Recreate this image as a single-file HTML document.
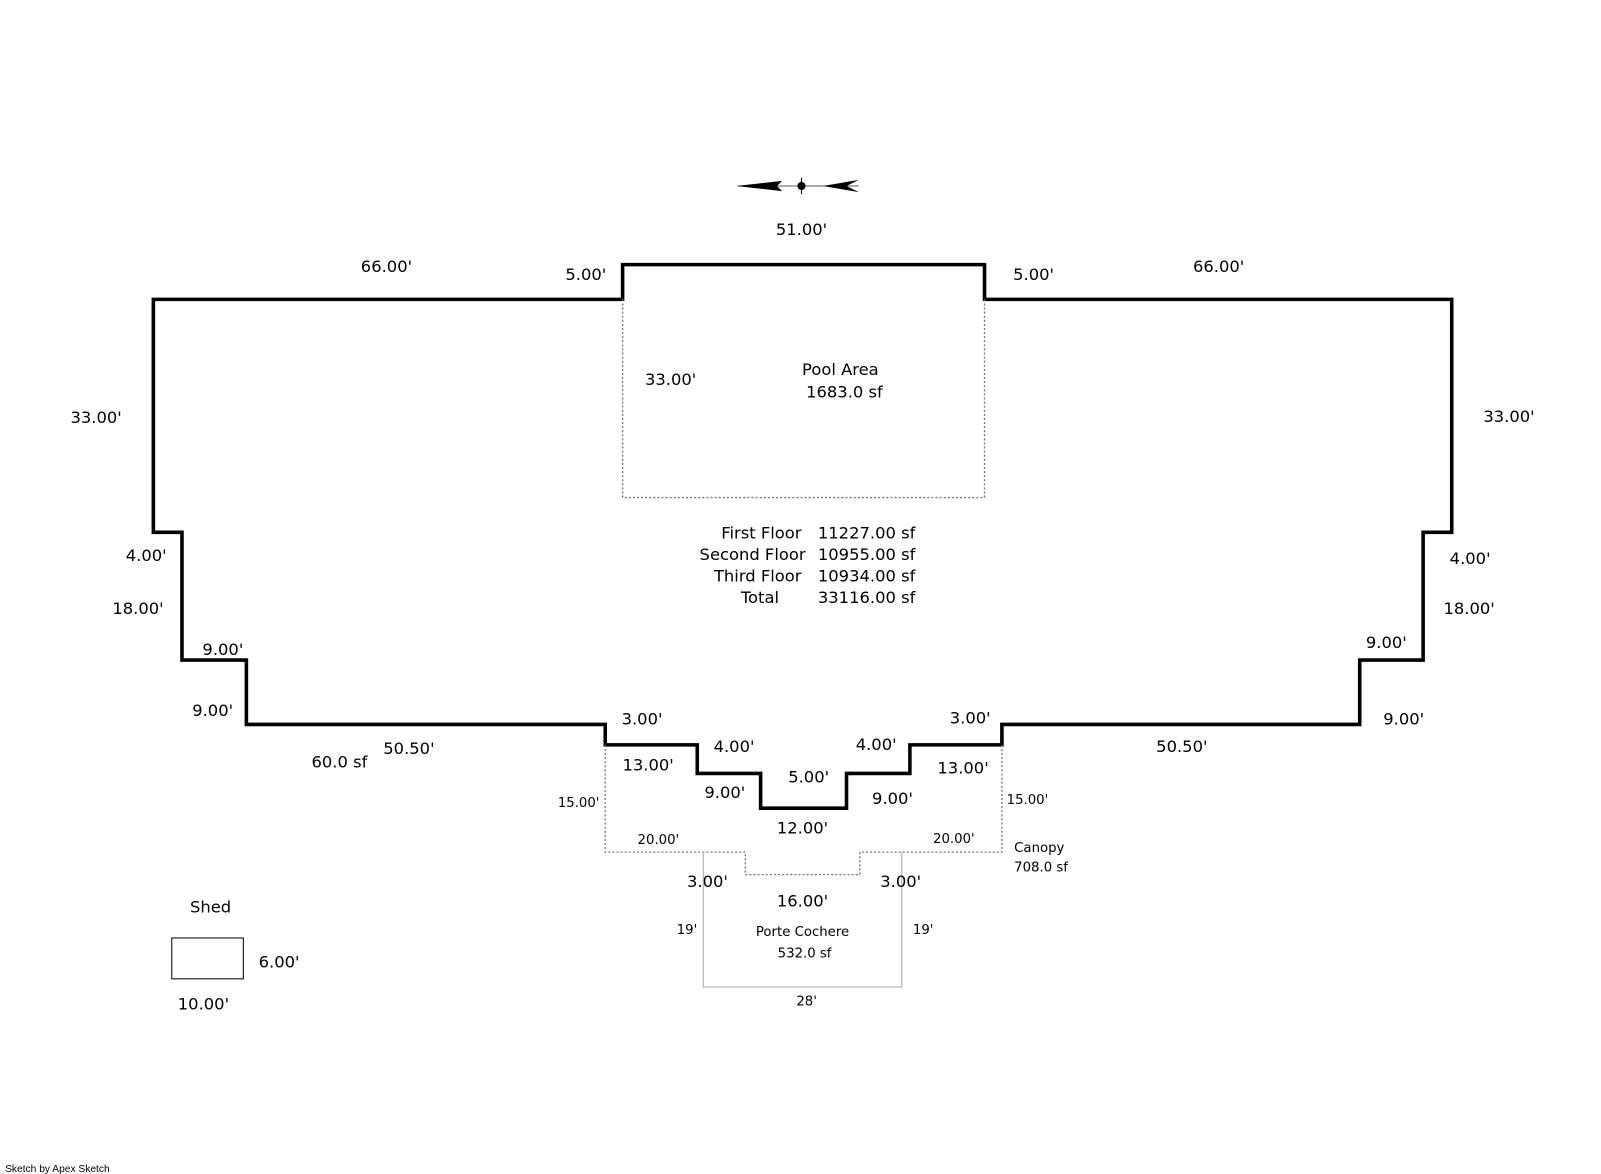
<!DOCTYPE html>
<html><head><meta charset="utf-8"><style>
html,body{margin:0;padding:0;background:#fff;}
svg{display:block;}
text{font-family:"DejaVu Sans","Liberation Sans",sans-serif;fill:#000;}
.l{font-size:16px;}
.s{font-size:13px;}
</style></head><body>
<svg width="1601" height="1174" viewBox="0 0 1566 1149" preserveAspectRatio="none" xmlns="http://www.w3.org/2000/svg">
<rect width="1566" height="1149" fill="#fff"/>
<!-- compass -->
<g>
<line x1="722" y1="182" x2="840" y2="182" stroke="#555" stroke-width="1"/>
<polygon points="720,182 765,177 760,182 765,187" fill="#000"/>
<polygon points="805,182 840,176 828,182 840,188" fill="#000"/>
<circle cx="784" cy="182" r="4" fill="#000"/>
<line x1="784" y1="174" x2="784" y2="190" stroke="#000" stroke-width="1"/>
</g>
<!-- main outline -->
<polygon points="150,293 609,293 609,259 963,259 963,293 1420,293 1420,521 1392,521 1392,646 1330,646 1330,709 980,709 980,729 890,729 890,757 828,757 828,791 744,791 744,757 682,757 682,729 592,729 592,709 241,709 241,646 178,646 178,521 150,521" fill="none" stroke="#000" stroke-width="3.5"/>
<!-- pool -->
<polyline points="609,293 609,487 963,487 963,293" fill="none" stroke="#777" stroke-width="1.3" stroke-dasharray="2,2"/>
<!-- canopy -->
<polyline points="592,729 592,834 729,834 729,856 841,856 841,834 980,834 980,729" fill="none" stroke="#777" stroke-width="1.3" stroke-dasharray="2,2"/>
<!-- porte cochere -->
<polyline points="688,834 688,966 882,966 882,834" fill="none" stroke="#bbb" stroke-width="1.3"/>
<!-- shed -->
<rect x="168" y="918" width="70" height="40" fill="none" stroke="#000" stroke-width="1"/>
<!-- labels -->
<g class="l">
<text x="784" y="230" text-anchor="middle">51.00'</text>
<text x="378" y="266" text-anchor="middle">66.00'</text>
<text x="573" y="274" text-anchor="middle">5.00'</text>
<text x="1011" y="274" text-anchor="middle">5.00'</text>
<text x="1192" y="266" text-anchor="middle">66.00'</text>
<text x="94" y="414" text-anchor="middle">33.00'</text>
<text x="1476" y="413" text-anchor="middle">33.00'</text>
<text x="656" y="377" text-anchor="middle">33.00'</text>
<text x="822" y="367" text-anchor="middle">Pool Area</text>
<text x="826" y="389" text-anchor="middle">1683.0 sf</text>
<text x="784" y="527" text-anchor="end">First Floor</text>
<text x="788" y="548" text-anchor="end">Second Floor</text>
<text x="784" y="569" text-anchor="end">Third Floor</text>
<text x="762" y="590" text-anchor="end">Total</text>
<text x="800" y="527">11227.00 sf</text>
<text x="800" y="548">10955.00 sf</text>
<text x="800" y="569">10934.00 sf</text>
<text x="800" y="590">33116.00 sf</text>
<text x="143" y="549" text-anchor="middle">4.00'</text>
<text x="135" y="601" text-anchor="middle">18.00'</text>
<text x="218" y="641" text-anchor="middle">9.00'</text>
<text x="208" y="701" text-anchor="middle">9.00'</text>
<text x="1438" y="552" text-anchor="middle">4.00'</text>
<text x="1437" y="601" text-anchor="middle">18.00'</text>
<text x="1356" y="634" text-anchor="middle">9.00'</text>
<text x="1373" y="709" text-anchor="middle">9.00'</text>
<text x="332" y="751" text-anchor="middle">60.0 sf</text>
<text x="400" y="738" text-anchor="middle">50.50'</text>
<text x="1156" y="736" text-anchor="middle">50.50'</text>
<text x="628" y="709" text-anchor="middle">3.00'</text>
<text x="949" y="708" text-anchor="middle">3.00'</text>
<text x="634" y="754" text-anchor="middle">13.00'</text>
<text x="942" y="757" text-anchor="middle">13.00'</text>
<text x="718" y="736" text-anchor="middle">4.00'</text>
<text x="857" y="734" text-anchor="middle">4.00'</text>
<text x="709" y="781" text-anchor="middle">9.00'</text>
<text x="873" y="787" text-anchor="middle">9.00'</text>
<text x="791" y="766" text-anchor="middle">5.00'</text>
<text x="785" y="816" text-anchor="middle">12.00'</text>
<text x="692" y="868" text-anchor="middle">3.00'</text>
<text x="881" y="868" text-anchor="middle">3.00'</text>
<text x="785" y="887" text-anchor="middle">16.00'</text>
<text x="206" y="893" text-anchor="middle">Shed</text>
<text x="273" y="947" text-anchor="middle">6.00'</text>
<text x="199" y="988" text-anchor="middle">10.00'</text>
</g>
<g class="s">
<text x="566" y="790" text-anchor="middle">15.00'</text>
<text x="1005" y="787" text-anchor="middle">15.00'</text>
<text x="644" y="826" text-anchor="middle">20.00'</text>
<text x="933" y="825" text-anchor="middle">20.00'</text>
<text x="992" y="834">Canopy</text>
<text x="992" y="853">708.0 sf</text>
<text x="672" y="914" text-anchor="middle">19'</text>
<text x="903" y="914" text-anchor="middle">19'</text>
<text x="785" y="916" text-anchor="middle">Porte Cochere</text>
<text x="787" y="937" text-anchor="middle">532.0 sf</text>
<text x="789" y="984" text-anchor="middle">28'</text>
</g>
<text x="5" y="1147" style="font-size:10px;font-family:'Liberation Sans',sans-serif">Sketch by Apex Sketch</text>
</svg>
</body></html>
